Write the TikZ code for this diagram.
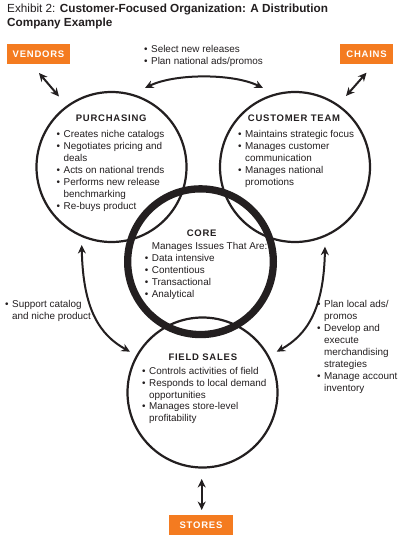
\documentclass[tikz,border=0pt]{standalone}
\usepackage{fontspec}
\setmainfont{Liberation Sans}
\newfontfamily\spacedfont[LetterSpace=8]{Liberation Sans}
\usetikzlibrary{arrows.meta}
\definecolor{orng}{HTML}{F47B20}
\definecolor{ink}{HTML}{231F20}
\newcommand{\bul}{\makebox[7pt][l]{•}}
\newcommand{\indnt}{\hspace*{7pt}}
\begin{document}
\begin{tikzpicture}[x=1pt,y=-1pt,
  txt/.style={anchor=north west, inner sep=0pt, align=left, font=\fontsize{9.9}{11.9}\selectfont, text=ink},
  head/.style={anchor=base, inner sep=0pt, font=\spacedfont\bfseries\fontsize{9.5}{11}\selectfont, text=ink},
  ring/.style={draw=ink, circle, line width=2.2pt, inner sep=0pt, minimum size=150pt},
  corering/.style={draw=ink, circle, line width=7.3pt, inner sep=0pt, minimum size=145.7pt},
  tag/.style={fill=orng, text=white, inner sep=0pt, minimum height=20pt, font=\spacedfont\bfseries\fontsize{9.5}{11}\selectfont},
  dbl/.style={draw=ink, line width=2pt, {Stealth[length=8.5pt,width=8pt]}-{Stealth[length=8.5pt,width=8pt]}}
]
\fill[white] (0,0) rectangle (400,538);
\useasboundingbox (0,0) rectangle (400,538);

% title
\node[anchor=north west, inner sep=0pt, align=left, font=\fontsize{11.75}{14}\selectfont, text=ink] (title) at (7,2.9)
  {\strut Exhibit 2: \textbf{Customer-Focused Organization: A Distribution}\\ \textbf{Company Example}};

% orange tags
\node[tag, minimum width=63pt] (vendors) at (38.5,54) {VENDORS};
\node[tag, minimum width=53pt] (chains) at (366.5,54) {CHAINS};
\node[tag, minimum width=64pt] (stores) at (201,525) {STORES};

% circles
\node[ring] (purch) at (111.5,167) {};
\node[ring] (cust) at (295,167) {};
\node[ring] (field) at (202.5,392.5) {};
\node[corering] (core) at (200.5,261.7) {};

% headings
\node[head] (purchH) at (111.2,121.7) {PURCHASING};
\node[head] (custH) at (294,121.7) {CUSTOMER TEAM};
\node[head] (coreH) at (201.7,236) {CORE};
\node[head] (fieldH) at (202.8,360) {FIELD SALES};

% circle texts
\node[txt] (purchT) at (56.5,129.2) {\strut\bul Creates niche catalogs\\ \bul Negotiates pricing and\\ \indnt deals\\ \bul Acts on national trends\\ \bul Performs new release\\ \indnt benchmarking\\ \bul Re-buys product};
\node[txt] (custT) at (238,129.2) {\strut\bul Maintains strategic focus\\ \bul Manages customer\\ \indnt communication\\ \bul Manages national\\ \indnt promotions};
\node[txt] (coreT) at (144.7,240.9) {\strut\indnt Manages Issues That Are:\\ \bul Data intensive\\ \bul Contentious\\ \bul Transactional\\ \bul Analytical};
\node[txt] (fieldT) at (142,365.7) {\strut\bul Controls activities of field\\ \bul Responds to local demand\\ \indnt opportunities\\ \bul Manages store-level\\ \indnt profitability};

% connector texts
\node[txt] (topT) at (144,44.2) {\strut\bul Select new releases\\ \bul Plan national ads/promos};
\node[txt] (leftT) at (5,299.2) {\strut\bul Support catalog\\ \indnt and niche product};
\node[txt] (rightT) at (317,299.2) {\strut\bul Plan local ads/\\ \indnt promos\\ \bul Develop and\\ \indnt execute\\ \indnt merchandising\\ \indnt strategies\\ \bul Manage account\\ \indnt inventory};

% arrow end points
\coordinate (vA) at (39,73);
\coordinate (vB) at (59,96.5);
\coordinate (cA) at (366.5,72.7);
\coordinate (cB) at (346,96);
\coordinate (tA) at (145,88);
\coordinate (tB) at (263,88);
\coordinate (sA) at (201.7,479);
\coordinate (sB) at (201.7,510);
\coordinate (lA) at (81.7,245);
\coordinate (lB) at (130,351.7);
\coordinate (rA) at (325,246.7);
\coordinate (rB) at (276.7,351.7);

\draw[dbl] (vA) -- (vB);
\draw[dbl] (cA) -- (cB);
\draw[dbl] (tA) .. controls (175,73.3) and (233,73.3) .. (tB);
\draw[dbl] (sA) -- (sB);
\draw[dbl] (lA) .. controls (83,310) and (100,335) .. (lB);
\draw[dbl] (rA) .. controls (323.7,310) and (306.7,335) .. (rB);
\end{tikzpicture}
\end{document}
